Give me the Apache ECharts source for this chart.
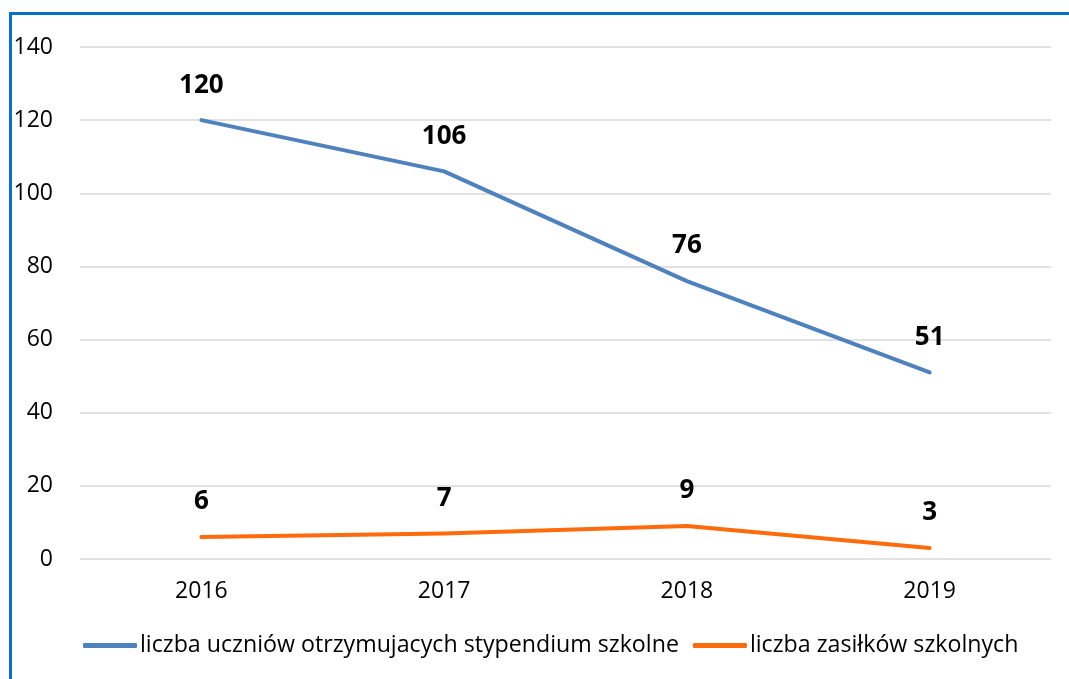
<!DOCTYPE html>
<html>
<head>
<meta charset="utf-8">
<script src="https://cdn.jsdelivr.net/npm/echarts@6/dist/echarts.min.js"></script>
<style>
  html, body { margin: 0; padding: 0; background: #fff; }
  #frame {
    position: absolute; left: 9px; top: 12px; right: 0; bottom: 0;
    border-left: 3px solid #0a70c4; border-top: 3px solid #0a70c4;
  }
  #chart { position: absolute; left: 0; top: 0; width: 1069px; height: 679px; }
</style>
</head>
<body>
<div id="frame"></div>
<div id="chart"></div>
<script>
const years = ['2016', '2017', '2018', '2019'];
const stypendia = [120, 106, 76, 51];
const zasilki = [6, 7, 9, 3];
const seriesNames = ['liczba uczniów otrzymujacych stypendium szkolne', 'liczba zasiłków szkolnych'];

const font = '"Open Sans", sans-serif';
const chart = echarts.init(document.getElementById('chart'));

const lineSeries = (name, data, color) => ({
  name: name,
  type: 'line',
  data: data,
  symbol: 'circle',
  symbolSize: 0,
  showAllSymbol: true,
  lineStyle: { width: 4, color: color, cap: 'round', join: 'round' },
  itemStyle: { color: color },
  label: {
    show: true,
    position: 'top',
    distance: 22,
    fontFamily: font,
    fontSize: 26,
    fontWeight: 'bold',
    color: '#000'
  },
  emphasis: { disabled: true }
});

chart.setOption({
  animation: false,
  textStyle: { fontFamily: font },
  grid: { left: 80, right: 18, top: 47, bottom: 120 },
  legend: {
    bottom: 17,
    left: 78,
    icon: 'roundRect',
    itemWidth: 54,
    itemHeight: 5,
    itemGap: 14,
    textStyle: { fontFamily: font, fontSize: 23.2, color: '#000', padding: [0, 0, 0, -2] },
    data: seriesNames
  },
  xAxis: {
    type: 'category',
    data: years,
    boundaryGap: true,
    axisLine: { show: false },
    axisTick: { show: false },
    axisLabel: { fontFamily: font, fontSize: 23, color: '#000', margin: 21 }
  },
  yAxis: {
    type: 'value',
    min: 0,
    max: 140,
    interval: 20,
    axisLine: { show: false },
    axisTick: { show: false },
    axisLabel: { fontFamily: font, fontSize: 23, color: '#000', margin: 27 },
    splitLine: { lineStyle: { color: '#d9d9d9', width: 1.5 } }
  },
  series: [
    lineSeries(seriesNames[0], stypendia, '#4f81bd'),
    lineSeries(seriesNames[1], zasilki, '#ff6a0d')
  ]
});
</script>
</body>
</html>
